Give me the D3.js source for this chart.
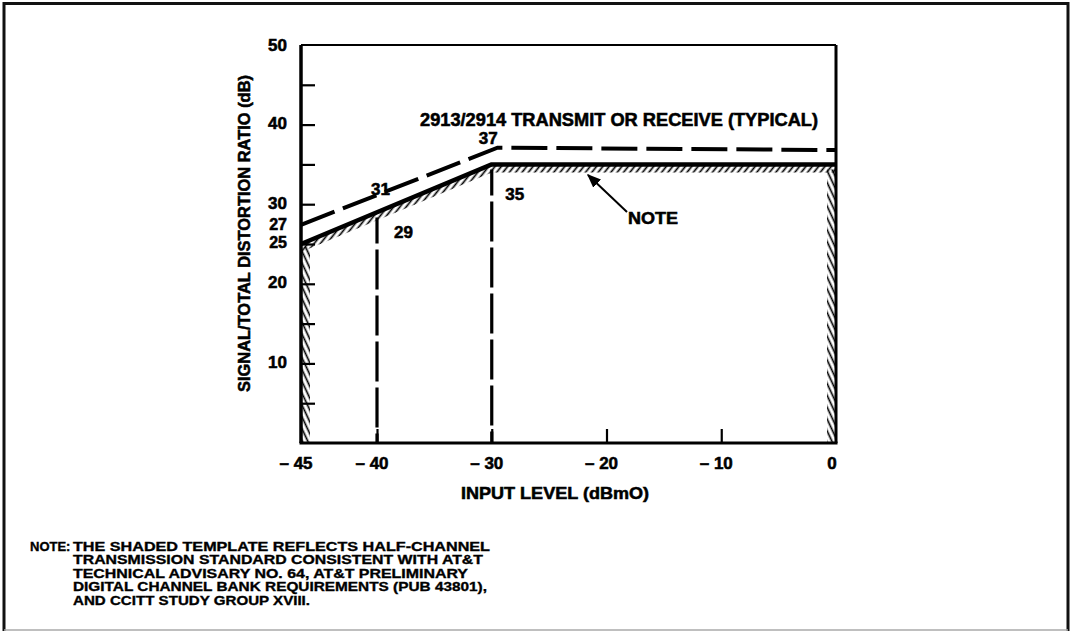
<!DOCTYPE html>
<html>
<head>
<meta charset="utf-8">
<script src="https://cdn.jsdelivr.net/npm/d3@7"></script>
<style>
  html, body { margin: 0; padding: 0; background: #fff; }
  svg { display: block; }
  text { font-family: "Liberation Sans", Arial, Helvetica, sans-serif; font-weight: bold; fill: #000;
         stroke: #000; stroke-width: 0.55px; }
  text.small { stroke-width: 0.35px; }
</style>
</head>
<body>
<svg id="chart" width="1074" height="633"></svg>
<script>
// ---------------- data ----------------
const xDomain = [-45, -40, 0];            // axis is drawn with a wider first 5 dB step
const yDomain = [0, 50];
const xTickValues = [-40, -30, -20, -10];
const xTickLabels = [
  { v: -45, t: "\u2013 45" }, { v: -40, t: "\u2013 40" }, { v: -30, t: "\u2013 30" },
  { v: -20, t: "\u2013 20" }, { v: -10, t: "\u2013 10" }, { v: 0, t: "0" }
];
const yTickValues = [5, 10, 15, 20, 25, 30, 35, 40, 45];
const yTickLabels = [10, 20, 25, 27, 30, 40, 50];

// shaded template (half-channel standard)
const templateX = [-45, -30, 0];
const templateY = [25, 35, 35];
// 2913/2914 typical
const typicalX = [-45, -29.5, 0];
const typicalY = [27.4, 37.1, 36.8];
// vertical reference lines
const refX = [-40, -30];
const refTop = [28.96, 35];

const pointLabels = [
  { x: -39.7, y: 31.2, t: "31" },
  { x: -30.3, y: 37.6, t: "37" },
  { x: -28, y: 30.5, t: "35" },
  { x: -37.7, y: 25.7, t: "29" }
];
const chartTitle = "2913/2914 TRANSMIT OR RECEIVE (TYPICAL)";
const xTitle = "INPUT LEVEL (dBmO)";
const yTitle = "SIGNAL/TOTAL DISTORTION RATIO (dB)";
const noteHead = "NOTE:";
const noteLines = [
  "THE SHADED TEMPLATE REFLECTS HALF-CHANNEL",
  "TRANSMISSION STANDARD CONSISTENT WITH AT&T",
  "TECHNICAL ADVISARY NO. 64, AT&T PRELIMINARY",
  "DIGITAL CHANNEL BANK REQUIREMENTS (PUB 43801),",
  "AND CCITT STUDY GROUP XVIII."
];
const noteWidths = [417, 410, 395, 414, 237];

// ---------------- layout ----------------
const L = 301, R = 836, T = 45, B = 443;
const x = d3.scaleLinear().domain(xDomain).range([L, 377, R]);
const y = d3.scaleLinear().domain(yDomain).range([B, T]);

const svg = d3.select("#chart");

// page border
svg.append("path").attr("d", "M4,631 L4,3.5 L1068,3.5 L1068,631")
  .attr("fill", "none").attr("stroke", "#111").attr("stroke-width", 3);
svg.append("line").attr("x1", 4).attr("x2", 1068).attr("y1", 630).attr("y2", 630)
  .attr("stroke", "#aaa").attr("stroke-width", 1.5);

// hatch patterns
const defs = svg.append("defs");
function hatch(id, angle) {
  const p = defs.append("pattern").attr("id", id)
    .attr("patternUnits", "userSpaceOnUse").attr("width", 5).attr("height", 10)
    .attr("patternTransform", `rotate(${angle})`);
  p.append("line").attr("x1", 2.5).attr("x2", 2.5).attr("y1", 0).attr("y2", 10)
    .attr("stroke", "#000").attr("stroke-width", 1.7);
}
hatch("hatchSlash", 38);
hatch("hatchBack", -25);
defs.append("marker").attr("id", "arrow").attr("viewBox", "0 0 10 10")
  .attr("refX", 9).attr("refY", 5).attr("markerWidth", 14).attr("markerHeight", 14)
  .attr("markerUnits", "userSpaceOnUse").attr("orient", "auto")
  .append("path").attr("d", "M0,1 L10,5 L0,9 Z").attr("fill", "#000");

// shaded template bands
const tpl = templateX.map((v, i) => [x(v), y(templateY[i])]);
const band = 8;
const topBand = tpl.concat(tpl.slice().reverse().map(p => [p[0], p[1] + band]));
svg.append("path").attr("d", "M" + topBand.map(p => p.join(",")).join("L") + "Z")
  .attr("fill", "url(#hatchSlash)");
svg.append("rect").attr("x", L + 1).attr("y", y(templateY[0]) + 3).attr("width", band)
  .attr("height", B - y(templateY[0]) - 3).attr("fill", "url(#hatchBack)");
svg.append("rect").attr("x", R - band - 1).attr("y", y(templateY[2]) + 5).attr("width", band)
  .attr("height", B - y(templateY[2]) - 5).attr("fill", "url(#hatchBack)");

// frame: top + right thin, left + bottom axes thicker
svg.append("line").attr("x1", L).attr("x2", R).attr("y1", T).attr("y2", T)
  .attr("stroke", "#000").attr("stroke-width", 2);
svg.append("line").attr("x1", R).attr("x2", R).attr("y1", T).attr("y2", B)
  .attr("stroke", "#000").attr("stroke-width", 3);

// axes via d3 (ticks drawn inward)
const yAxis = d3.axisLeft(y).tickValues(yTickValues).tickSize(-14).tickFormat("");
const gy = svg.append("g").attr("transform", `translate(${L},0)`).call(yAxis);
gy.select(".domain").attr("stroke-width", 3.5).attr("d", `M0,${T}V${B}`);
gy.selectAll(".tick line").attr("stroke-width", 2.2);

const xAxis = d3.axisBottom(x).tickValues(xTickValues).tickSize(-14).tickFormat("");
const gx = svg.append("g").attr("transform", `translate(0,${B})`).call(xAxis);
gx.select(".domain").attr("stroke-width", 3).attr("d", `M${L - 1.5},0H${R + 1.5}`);
gx.selectAll(".tick line").attr("stroke-width", 2.2);

// tick labels
const yLabelShift = { 50: 6, 27: 1.5, 25: 4 };
svg.append("g").selectAll("text").data(yTickLabels).join("text")
  .attr("x", 287).attr("y", d => y(d) + (yLabelShift[d] !== undefined ? yLabelShift[d] : 4.5))
  .attr("text-anchor", "end").style("font-size", d => (d === 25 || d === 27) ? "16px" : "17px").text(d => d);
svg.append("g").selectAll("text").data(xTickLabels).join("text")
  .attr("x", d => x(d.v) - (d.v === 0 ? 4 : 5)).attr("y", 469)
  .attr("text-anchor", "middle").style("font-size", "17px").text(d => d.t);

// vertical reference lines
svg.append("g").selectAll("line").data(refX).join("line")
  .attr("x1", d => x(d)).attr("x2", d => x(d))
  .attr("y1", (d, i) => y(refTop[i]) + 5).attr("y2", B)
  .attr("stroke", "#000").attr("stroke-width", 3.2).attr("stroke-dasharray", "26,6,40,6,40,6,40,6,40,6,40,6");

// curves
const line = d3.line().x(d => x(d[0])).y(d => y(d[1]));
svg.append("path").datum(typicalX.map((v, i) => [v, typicalY[i]]))
  .attr("d", line).attr("fill", "none").attr("stroke", "#000")
  .attr("stroke-width", 4).attr("stroke-dasharray", "36,9");
svg.append("path").datum(templateX.map((v, i) => [v, templateY[i]]))
  .attr("d", line).attr("fill", "none").attr("stroke", "#000")
  .attr("stroke-width", 4.5).attr("stroke-linejoin", "round");

// labels
function fit(sel, w) { if (w) sel.attr("textLength", w).attr("lengthAdjust", "spacingAndGlyphs"); return sel; }
svg.append("g").selectAll("text").data(pointLabels).join("text")
  .attr("x", d => x(d.x)).attr("y", d => y(d.y))
  .attr("text-anchor", "middle").style("font-size", "17px").text(d => d.t);

fit(svg.append("text").attr("x", 420).attr("y", 126).style("font-size", "17.5px").text(chartTitle), 398);

fit(svg.append("text").attr("x", 628).attr("y", 224).style("font-size", "17px").text("NOTE"), 50);
svg.append("line").attr("x1", 627).attr("y1", 212).attr("x2", 588).attr("y2", 175)
  .attr("stroke", "#000").attr("stroke-width", 2).attr("marker-end", "url(#arrow)");

fit(svg.append("text").attr("x", 461).attr("y", 499).style("font-size", "17px").text(xTitle), 188);
fit(svg.append("text").attr("transform", "translate(250,392) rotate(-90)")
  .style("font-size", "17px").text(yTitle), 317);

// footnote
svg.append("text").attr("class", "small").attr("x", 30).attr("y", 551).style("font-size", "13px").text(noteHead);
svg.append("g").selectAll("text").data(noteLines).join("text")
  .attr("class", "small")
  .attr("x", 73).attr("y", (d, i) => 551 + i * 13.4).style("font-size", "13px")
  .text(d => d)
  .each(function(d, i) { d3.select(this).attr("textLength", noteWidths[i]).attr("lengthAdjust", "spacingAndGlyphs"); });
</script>
</body>
</html>
